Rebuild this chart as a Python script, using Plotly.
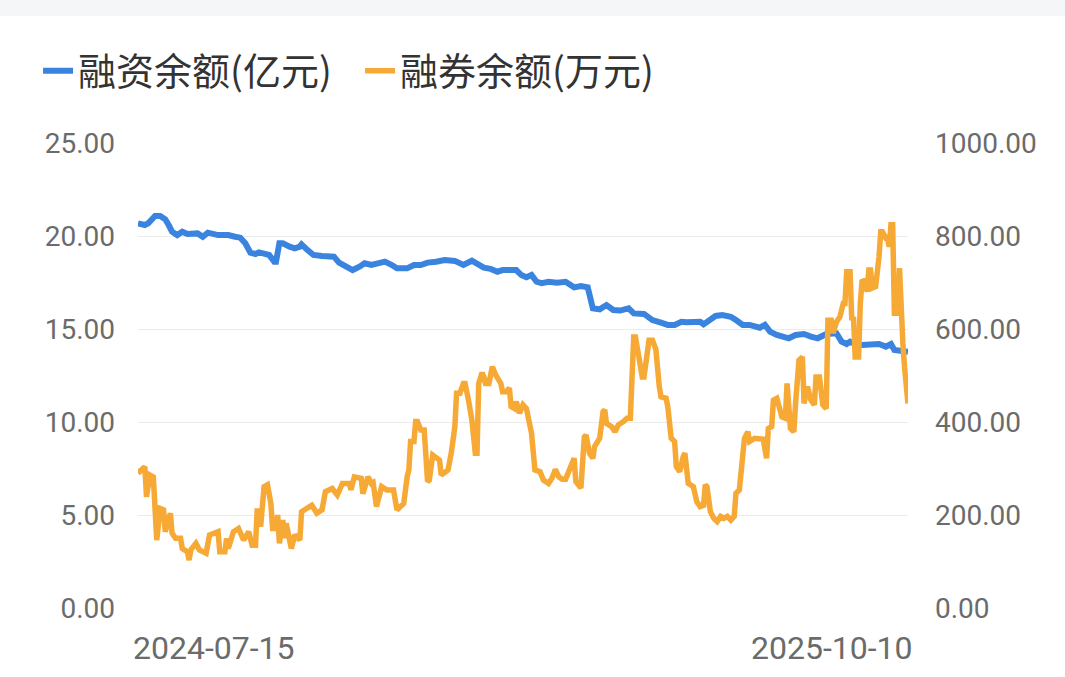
import plotly.graph_objects as go

# 融资余额 (亿元)
rz_dates = ["2024-07-15","2024-07-19","2024-07-21","2024-07-25","2024-07-28","2024-07-31","2024-08-02","2024-08-04",
            "2024-08-07","2024-08-10","2024-08-13","2024-08-19","2024-08-22","2024-08-25","2024-08-31","2024-09-06",
            "2024-09-10","2024-09-13","2024-09-16","2024-09-19","2024-09-22","2024-09-24","2024-09-27","2024-09-30",
            "2024-10-03","2024-10-04","2024-10-06","2024-10-08","2024-10-12","2024-10-15","2024-10-18","2024-10-19",
            "2024-10-22","2024-10-26","2024-10-31","2024-11-04","2024-11-07","2024-11-10","2024-11-14","2024-11-18",
            "2024-11-22","2024-11-25","2024-11-29","2024-12-03","2024-12-07","2024-12-11","2024-12-14","2024-12-20",
            "2024-12-24","2024-12-28","2025-01-01","2025-01-06","2025-01-11","2025-01-17","2025-01-22","2025-01-27",
            "2025-01-30","2025-02-03","2025-02-07","2025-02-11","2025-02-14","2025-02-18","2025-02-22","2025-02-25",
            "2025-02-28","2025-03-03","2025-03-06","2025-03-09","2025-03-13","2025-03-18","2025-03-23","2025-03-28",
            "2025-04-01","2025-04-05","2025-04-07","2025-04-08","2025-04-12","2025-04-16","2025-04-20","2025-04-24",
            "2025-04-29","2025-05-02","2025-05-08","2025-05-13","2025-05-18","2025-05-22","2025-05-26","2025-05-30",
            "2025-06-02","2025-06-06","2025-06-10","2025-06-12","2025-06-15","2025-06-19","2025-06-23","2025-06-28",
            "2025-07-01","2025-07-05","2025-07-09","2025-07-13","2025-07-15","2025-07-18","2025-07-21","2025-07-25",
            "2025-07-28","2025-08-01","2025-08-05","2025-08-10","2025-08-14","2025-08-18","2025-08-23","2025-08-27",
            "2025-08-29","2025-09-01","2025-09-04","2025-09-06","2025-09-09","2025-09-13","2025-09-18","2025-09-23",
            "2025-09-27","2025-09-30","2025-10-02","2025-10-06","2025-10-10"]
rz_values = [20.68,20.59,20.68,21.08,21.08,20.90,20.59,20.23,
             20.05,20.23,20.11,20.14,19.96,20.18,20.05,20.05,
             19.96,19.91,19.61,19.10,19.03,19.12,19.05,18.98,
             18.62,18.62,19.61,19.61,19.43,19.34,19.43,19.55,
             19.29,18.98,18.92,18.92,18.89,18.57,18.35,18.17,
             18.35,18.53,18.44,18.49,18.62,18.44,18.26,18.26,
             18.44,18.44,18.57,18.62,18.71,18.66,18.44,18.67,
             18.53,18.30,18.23,18.08,18.17,18.14,18.17,17.90,
             17.78,17.90,17.54,17.46,17.54,17.49,17.54,17.24,
             17.31,17.24,16.56,16.11,16.06,16.29,16.02,15.99,
             16.11,15.84,15.81,15.48,15.34,15.22,15.22,15.39,
             15.36,15.39,15.39,15.25,15.48,15.70,15.75,15.66,
             15.48,15.22,15.22,15.09,15.07,15.22,14.86,14.68,
             14.59,14.50,14.68,14.73,14.59,14.50,14.73,14.77,
             14.77,14.32,14.19,14.32,14.19,14.14,14.19,14.19,
             14.05,14.19,13.87,13.83,13.78]

# 融券余额 (万元)
rq_dates = ["2024-07-15","2024-07-19","2024-07-20","2024-07-22","2024-07-24","2024-07-26","2024-07-28","2024-07-30",
            "2024-07-31","2024-08-03","2024-08-04","2024-08-06","2024-08-09","2024-08-10","2024-08-13","2024-08-14",
            "2024-08-15","2024-08-18","2024-08-20","2024-08-24","2024-08-26","2024-08-31","2024-09-01","2024-09-04",
            "2024-09-05","2024-09-06","2024-09-09","2024-09-12","2024-09-15","2024-09-18","2024-09-20","2024-09-22",
            "2024-09-23","2024-09-25","2024-09-27","2024-09-29","2024-10-01","2024-10-02","2024-10-04","2024-10-05",
            "2024-10-06","2024-10-08","2024-10-09","2024-10-10","2024-10-13","2024-10-15","2024-10-18","2024-10-19",
            "2024-10-22","2024-10-25","2024-10-28","2024-10-31","2024-11-02","2024-11-06","2024-11-09","2024-11-12",
            "2024-11-16","2024-11-17","2024-11-19","2024-11-23","2024-11-24","2024-11-27","2024-11-29","2024-11-30",
            "2024-12-02","2024-12-05","2024-12-08","2024-12-12","2024-12-14","2024-12-17","2024-12-18","2024-12-20",
            "2024-12-21","2024-12-22","2024-12-24","2024-12-25","2024-12-26","2024-12-28","2024-12-30","2025-01-01",
            "2025-01-02","2025-01-04","2025-01-06","2025-01-08","2025-01-09","2025-01-11","2025-01-13","2025-01-15",
            "2025-01-17","2025-01-18","2025-01-20","2025-01-22","2025-01-23","2025-01-25","2025-01-27","2025-01-29",
            "2025-01-30","2025-01-31","2025-02-02","2025-02-03","2025-02-04","2025-02-06","2025-02-07","2025-02-08",
            "2025-02-10","2025-02-13","2025-02-14","2025-02-16","2025-02-18","2025-02-19","2025-02-21","2025-02-22",
            "2025-02-24","2025-02-26","2025-02-28","2025-03-03","2025-03-05","2025-03-08","2025-03-10","2025-03-13",
            "2025-03-15","2025-03-17","2025-03-19","2025-03-21","2025-03-23","2025-03-25","2025-03-28","2025-03-29",
            "2025-03-31","2025-04-01","2025-04-03","2025-04-04","2025-04-06","2025-04-08","2025-04-09","2025-04-12",
            "2025-04-14","2025-04-15","2025-04-16","2025-04-19","2025-04-21","2025-04-23","2025-04-26","2025-04-28",
            "2025-04-30","2025-05-02","2025-05-03","2025-05-05","2025-05-07","2025-05-08","2025-05-10","2025-05-11",
            "2025-05-13","2025-05-15","2025-05-17","2025-05-18","2025-05-21","2025-05-22","2025-05-24","2025-05-26",
            "2025-05-27","2025-05-29","2025-05-31","2025-06-01","2025-06-03","2025-06-06","2025-06-08","2025-06-10",
            "2025-06-12","2025-06-13","2025-06-14","2025-06-16","2025-06-18","2025-06-20","2025-06-22","2025-06-24",
            "2025-06-26","2025-06-28","2025-06-30","2025-07-01","2025-07-03","2025-07-05","2025-07-06","2025-07-08",
            "2025-07-09","2025-07-12","2025-07-15","2025-07-17","2025-07-19","2025-07-20","2025-07-22","2025-07-23",
            "2025-07-25","2025-07-28","2025-07-30","2025-07-31","2025-08-02","2025-08-04","2025-08-05","2025-08-07",
            "2025-08-09","2025-08-10","2025-08-12","2025-08-14","2025-08-16","2025-08-17","2025-08-19","2025-08-21",
            "2025-08-23","2025-08-24","2025-08-26","2025-08-27","2025-08-29","2025-08-31","2025-09-02","2025-09-03",
            "2025-09-04","2025-09-06","2025-09-07","2025-09-08","2025-09-09","2025-09-11","2025-09-12","2025-09-13",
            "2025-09-15","2025-09-16","2025-09-17","2025-09-18","2025-09-19","2025-09-21","2025-09-23","2025-09-24",
            "2025-09-25","2025-09-27","2025-09-28","2025-09-29","2025-09-30","2025-10-01","2025-10-02","2025-10-04",
            "2025-10-05","2025-10-06","2025-10-07","2025-10-08","2025-10-10"]
rq_values = [290,304,239,286,282,146,214,211,
             164,204,161,150,150,128,121,103,
             125,139,125,118,157,164,121,121,
             150,128,164,171,146,164,135,135,
             214,175,261,265,225,171,171,200,
             139,189,150,182,128,157,146,207,
             214,221,204,211,250,257,243,268,
             268,254,282,279,246,282,268,270,
             218,261,254,254,211,225,225,282,
             297,358,358,401,401,383,383,272,
             275,329,322,318,286,290,297,336,
             390,462,462,483,483,447,404,333,
             333,483,506,497,483,483,505,519,
             501,483,465,465,473,433,429,444,
             419,437,429,376,297,293,275,268,
             279,298,282,277,277,297,322,272,
             261,258,368,372,333,322,347,365,
             422,426,397,390,379,394,401,408,
             408,583,583,540,497,497,540,576,
             576,556,476,454,451,433,365,358,
             304,293,325,333,268,261,229,218,
             221,265,261,207,193,186,197,193,
             197,189,197,247,254,354,365,379,
             358,365,365,363,322,386,390,447,
             451,411,408,483,386,379,440,533,
             540,440,476,447,437,497,497,437,
             429,619,619,591,615,626,655,655,
             723,723,619,626,540,540,655,702,
             705,680,727,727,688,691,756,809,
             809,795,795,777,824,824,634,634,
             731,609,569,516,440]

y_left_ticks = [0, 5, 10, 15, 20, 25]
y_right_ticks = [0, 200, 400, 600, 800, 1000]
x_tick_labels = [rz_dates[0], rz_dates[-1]]

BLUE = "#3a84df"
ORANGE = "#f6a935"
TICK_FONT = dict(family="Roboto, 'Noto Sans', sans-serif", size=28, color="#6b6b6b")
XTICK_FONT = dict(family="Roboto, 'Noto Sans', sans-serif", size=32, color="#6b6b6b")

fig = go.Figure()
fig.add_trace(go.Scatter(x=rz_dates, y=rz_values, name="融资余额(亿元)", mode="lines",
                         line=dict(color=BLUE, width=6), yaxis="y"))
fig.add_trace(go.Scatter(x=rq_dates, y=rq_values, name="融券余额(万元)", mode="lines",
                         line=dict(color=ORANGE, width=5.5), yaxis="y2"))

fig.update_layout(
    width=1065, height=677,
    margin=dict(l=138, r=157, t=143, b=69),
    paper_bgcolor="white", plot_bgcolor="white",
    showlegend=True,
    legend=dict(orientation="h", x=-0.1298, xanchor="left", y=1.155, yanchor="middle",
                font=dict(family="'Noto Sans CJK SC', sans-serif", size=38, color="#333333"),
                itemwidth=30, entrywidth=277, entrywidthmode="pixels",
                bgcolor="rgba(0,0,0,0)", traceorder="normal"),
    xaxis=dict(type="date", range=[rz_dates[0], rz_dates[-1]], showgrid=False, zeroline=False,
               showticklabels=False, showline=False, ticks=""),
    yaxis=dict(range=[0, 25], tickvals=y_left_ticks, tickformat=".2f", showgrid=True,
               gridcolor="#ebebeb", gridwidth=1, zeroline=False, showline=False,
               tickfont=TICK_FONT, ticklabelstandoff=22),
    yaxis2=dict(range=[0, 1000], tickvals=y_right_ticks, tickformat=".2f", overlaying="y",
                side="right", showgrid=False, zeroline=False, showline=False,
                tickfont=TICK_FONT, ticklabelstandoff=26),
    hovermode=False,
)

# top grey band
fig.add_shape(type="rect", xref="paper", yref="paper", x0=-0.2, x1=1.25, y0=1.2731, y1=1.32,
              fillcolor="#f5f6f8", line=dict(width=0), layer="below")

# x-axis end labels
fig.add_annotation(x=x_tick_labels[0], y=0, xref="x", yref="paper", text=x_tick_labels[0],
                   xanchor="left", yanchor="top", yshift=-19, xshift=-7, showarrow=False, font=XTICK_FONT)
fig.add_annotation(x=x_tick_labels[1], y=0, xref="x", yref="paper", text=x_tick_labels[1],
                   xanchor="right", yanchor="top", yshift=-19, xshift=7, showarrow=False, font=XTICK_FONT)

fig.write_html("out.html", config={"displayModeBar": False, "staticPlot": True},
               post_script="document.body.style.margin='0';document.body.style.padding='0';")
